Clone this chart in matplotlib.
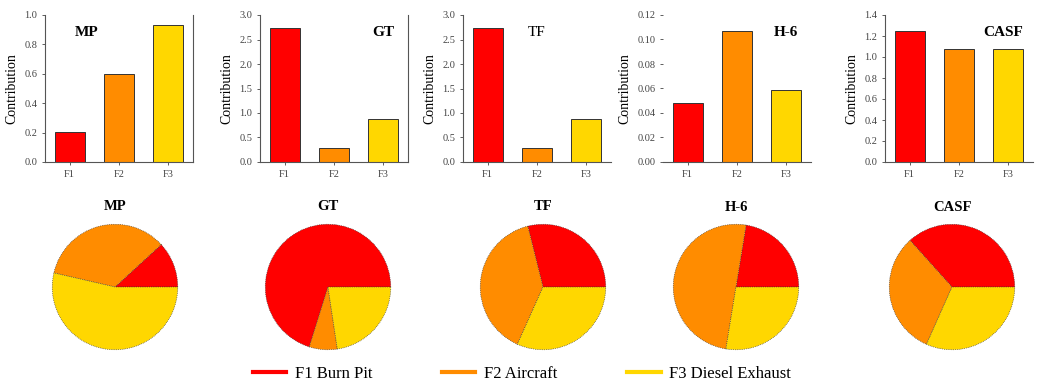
import matplotlib.pyplot as plt
from matplotlib.lines import Line2D

plt.rcParams['font.family'] = ['Liberation Serif', 'DejaVu Serif']

# dane
panels = ['MP', 'GT', 'TF', 'H-6', 'CASF']
factors = ['F1', 'F2', 'F3']
factor_names = ['F1 Burn Pit', 'F2 Aircraft', 'F3 Diesel Exhaust']
colors = ['#ff0000', '#ff8c00', '#ffd700']

mp = [0.205, 0.60, 0.93]
gt = [2.73, 0.28, 0.88]
tf = [2.73, 0.28, 0.88]
h6 = [0.048, 0.107, 0.059]
casf = [1.25, 1.08, 1.08]
bar_values = [mp, gt, tf, h6, casf]

# udzialy w wykresach kolowych (TF ma inne niz slupki)
pie_mp = mp
pie_gt = gt
pie_tf = [0.289, 0.394, 0.317]
pie_h6 = h6
pie_casf = casf
pie_values = [pie_mp, pie_gt, pie_tf, pie_h6, pie_casf]

ylims = [1.0, 3.0, 3.0, 0.12, 1.4]
yticks = [
    [0.0, 0.2, 0.4, 0.6, 0.8, 1.0],
    [0.0, 0.5, 1.0, 1.5, 2.0, 2.5, 3.0],
    [0.0, 0.5, 1.0, 1.5, 2.0, 2.5, 3.0],
    [0.00, 0.02, 0.04, 0.06, 0.08, 0.10, 0.12],
    [0.0, 0.2, 0.4, 0.6, 0.8, 1.0, 1.2, 1.4],
]
ytick_fmt = ['%.1f', '%.1f', '%.1f', '%.2f', '%.1f']
title_pos = [(0.28, 0.88), (0.83, 0.88), (0.5, 0.88), (0.83, 0.88), (0.8, 0.88)]
title_weight = ['bold', 'bold', 'normal', 'bold', 'bold']
right_spine = [True, True, False, False, False]

W, H = 1050, 392
fig = plt.figure(figsize=(W / 100, H / 100), dpi=100)

bar_left = [45, 260, 463, 663, 885]
pie_cx = [115, 328, 543, 736, 952]
pie_cy, pie_r = 287, 64

for i, name in enumerate(panels):
    ax = fig.add_axes([bar_left[i] / W, 1 - 162 / H, 148 / W, 147 / H])
    ax.bar(range(3), bar_values[i], width=0.61, color=colors,
           edgecolor='#333333', linewidth=0.7)
    ax.set_xlim(-0.5, 2.5)
    ax.set_ylim(0, ylims[i])
    ax.set_yticks(yticks[i])
    ax.set_yticklabels([ytick_fmt[i] % v for v in yticks[i]])
    ax.set_xticks(range(3))
    ax.set_xticklabels(factors)
    ax.tick_params(labelsize=7.5, colors='#444444', length=2, width=0.6)
    ax.set_ylabel('Contribution', fontsize=10, labelpad=4)
    ax.spines['top'].set_visible(False)
    ax.spines['right'].set_visible(right_spine[i])
    if name == 'H-6':
        ax.spines['left'].set_visible(False)
    for s in ax.spines.values():
        s.set_linewidth(0.8)
        s.set_color('#555555')
    ax.text(title_pos[i][0], title_pos[i][1], name, transform=ax.transAxes,
            ha='center', va='center', fontsize=11, fontweight=title_weight[i])

    pax = fig.add_axes([(pie_cx[i] - pie_r) / W, (H - pie_cy - pie_r) / H,
                        2 * pie_r / W, 2 * pie_r / H])
    pax.pie(pie_values[i], colors=colors, startangle=0, counterclock=True,
            wedgeprops=dict(edgecolor='#333333', linewidth=0.5, linestyle=':'))
    pax.set_xlim(-1.02, 1.02)
    pax.set_ylim(-1.02, 1.02)
    pax.set_title(name, fontsize=10.5, fontweight='bold', pad=9)

handles = [Line2D([], [], color=c, lw=3) for c in colors]
fig.legend(handles, factor_names, loc='center', bbox_to_anchor=(0.497, 1 - 374 / H),
           ncol=3, frameon=False, fontsize=12, handlelength=2.0,
           handletextpad=0.5, columnspacing=4.2)

fig.savefig('out.png', dpi=100, facecolor='white')
